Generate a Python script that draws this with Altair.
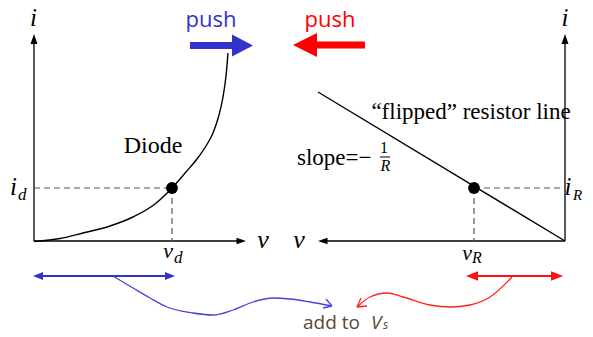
import altair as alt
import pandas as pd

# ---------------- data (diagram coordinates) ----------------
# diode characteristic i(v)
diode_v = [34, 60, 83, 110, 133, 155, 172, 186, 197, 206, 213, 219, 223, 226, 228]
diode_i = [241.5, 238.5, 233, 226, 217, 204, 188, 172, 159, 146, 133, 115, 97, 76, 53]

# "flipped" resistor load line
res_v = [318, 565]
res_i = [92, 241]

# operating points
op_v = [172, 474]
op_i = [188, 188]

# connecting curves under the plots
blue_v = [113, 133, 150, 167, 193, 213, 233, 253, 273, 290, 310, 332]
blue_i = [276, 288, 298, 307, 313, 315, 310, 302, 298, 299, 302, 306]
red_v = [512, 490, 470, 450, 430, 403, 387, 370, 357]
red_i = [277, 297, 305, 307, 305, 297, 293, 297, 307]

# axes segments
axis_x1 = [34, 34, 565, 565]
axis_y1 = [241, 241, 241, 241]
axis_x2 = [34, 240, 565, 324]
axis_y2 = [40, 241, 40, 241]

# dashed guides
dash_x1 = [34, 172, 474, 474]
dash_y1 = [188, 188, 188, 188]
dash_x2 = [172, 172, 565, 474]
dash_y2 = [188, 242, 188, 242]

# solid segments: push shafts, double arrows, chevrons, fraction bar
seg_x1 = [190, 312, 38, 471, 323, 326, 361, 367, 380]
seg_y1 = [45.5, 45, 276, 276, 308, 299, 298, 306, 157]
seg_x2 = [236, 365, 171, 558, 332, 332, 357, 357, 390]
seg_y2 = [45.5, 45, 276, 276, 306, 306, 307, 307, 157]
seg_col = ["#3333cc", "#ff0000", "#3333cc", "#ff1111", "#4444dd", "#4444dd", "#ff2222", "#ff2222", "black"]
seg_w = [7, 7, 2, 2, 1.3, 1.3, 1.3, 1.3, 1]

# arrow heads
head_x = [34, 565, 246, 318, 253, 293, 33, 175, 466, 563]
head_y = [34, 34, 241, 241, 45.5, 45, 276, 276, 276, 276]
head_kind = ["up", "up", "right", "left", "bigright", "bigleft", "midleft", "midright", "midleft", "midright"]
head_size = [100, 100, 90, 90, 441, 576, 100, 100, 144, 144]
head_col = ["black", "black", "black", "black", "#3333cc", "#ff0000", "#3333cc", "#3333cc", "#ff1111", "#ff1111"]

shape_names = ["up", "right", "left", "bigright", "bigleft", "midright", "midleft"]
shape_paths = [
    "M0,0L-0.7,2L0.7,2Z",
    "M0,0L-2,-0.7L-2,0.7Z",
    "M0,0L2,-0.7L2,0.7Z",
    "M0,0L-2,-1.04L-2,1.04Z",
    "M0,0L2,-1.0L2,1.0Z",
    "M0,0L-2,-0.8L-2,0.8Z",
    "M0,0L2,-0.8L2,0.8Z",
]

# texts
serif_txt = ["Diode", "\u201cflipped\u201d resistor line", "1"]
serif_x = [153, 471, 384]
serif_y = [153, 119, 153]
serif_sz = [24, 23, 16]

slope_txt = ["slope=\u2212"]
slope_x = [297]
slope_y = [165]

math_txt = ["i", "i", "v", "v", "i", "v", "v", "i", "R"]
math_x = [33.5, 565, 263, 299, 13.5, 168, 467, 568, 385.5]
math_y = [26, 26, 248, 248, 195, 258, 260, 195, 171]
math_sz = [25, 25, 26, 26, 25, 22, 22, 25, 16]

sub_txt = ["d", "d", "R", "R"]
sub_x = [18, 174, 472, 573]
sub_y = [200, 263, 263, 200]
sub_sz = [17, 17, 16, 15]

push_txt = ["push", "push"]
push_x = [211, 330]
push_y = [27, 27]
push_col = ["#3333cc", "#ff0000"]

add_txt = ["add to"]
add_x = [303]
add_y = [329]
vs_txt = ["V", "s"]
vs_x = [371, 383]
vs_y = [329, 329]
vs_sz = [19, 12]

# ---------------- chart ----------------
xs = alt.Scale(domain=[8, 585], nice=False, zero=False)
ys = alt.Scale(domain=[8, 329], nice=False, zero=False, reverse=True)


def X(f="x"):
    return alt.X(f + ":Q", scale=xs, axis=None)


def Y(f="y"):
    return alt.Y(f + ":Q", scale=ys, axis=None)


axes = alt.Chart(pd.DataFrame({"x": axis_x1, "y": axis_y1, "x2": axis_x2, "y2": axis_y2})).mark_rule(
    color="black", strokeWidth=1.3
).encode(x=X(), y=Y(), x2="x2:Q", y2="y2:Q")

dashes = alt.Chart(pd.DataFrame({"x": dash_x1, "y": dash_y1, "x2": dash_x2, "y2": dash_y2})).mark_rule(
    color="#555555", strokeWidth=1.2, strokeDash=[6, 4]
).encode(x=X(), y=Y(), x2="x2:Q", y2="y2:Q")

segs = alt.Chart(pd.DataFrame({"x": seg_x1, "y": seg_y1, "x2": seg_x2, "y2": seg_y2,
                               "c": seg_col, "w": seg_w})).mark_rule().encode(
    x=X(), y=Y(), x2="x2:Q", y2="y2:Q",
    color=alt.Color("c:N", scale=None),
    strokeWidth=alt.StrokeWidth("w:Q", scale=None),
)

diode = alt.Chart(pd.DataFrame({"x": diode_v, "y": diode_i})).mark_line(
    color="black", strokeWidth=1.4, interpolate="monotone"
).encode(x=X(), y=Y())

res = alt.Chart(pd.DataFrame({"x": res_v, "y": res_i})).mark_line(
    color="black", strokeWidth=1.4
).encode(x=X(), y=Y())

blue = alt.Chart(pd.DataFrame({"x": blue_v, "y": blue_i})).mark_line(
    color="#4444dd", strokeWidth=1.3, interpolate="monotone"
).encode(x=X(), y=Y())

red = alt.Chart(pd.DataFrame({"x": red_v, "y": red_i})).mark_line(
    color="#ff2222", strokeWidth=1.3, interpolate="monotone"
).encode(x=X(), y=Y())

ops = alt.Chart(pd.DataFrame({"x": op_v, "y": op_i})).mark_circle(
    color="black", opacity=1, size=140
).encode(x=X(), y=Y())

heads = alt.Chart(pd.DataFrame({"x": head_x, "y": head_y, "k": head_kind, "s": head_size,
                                "c": head_col})).mark_point(filled=True, opacity=1, strokeWidth=0).encode(
    x=X(), y=Y(),
    shape=alt.Shape("k:N", scale=alt.Scale(domain=shape_names, range=shape_paths), legend=None),
    size=alt.Size("s:Q", scale=None),
    color=alt.Color("c:N", scale=None),
)

serif = alt.Chart(pd.DataFrame({"x": serif_x, "y": serif_y, "t": serif_txt, "s": serif_sz})).mark_text(
    font="Liberation Serif", align="center", baseline="alphabetic", color="black"
).encode(x=X(), y=Y(), text="t:N", size=alt.Size("s:Q", scale=None))

slope = alt.Chart(pd.DataFrame({"x": slope_x, "y": slope_y, "t": slope_txt})).mark_text(
    font="Liberation Serif", fontSize=23, align="left", baseline="alphabetic", color="black"
).encode(x=X(), y=Y(), text="t:N")

math = alt.Chart(pd.DataFrame({"x": math_x, "y": math_y, "t": math_txt, "s": math_sz})).mark_text(
    font="Liberation Serif", fontStyle="italic", align="center", baseline="alphabetic", color="black"
).encode(x=X(), y=Y(), text="t:N", size=alt.Size("s:Q", scale=None))

subs = alt.Chart(pd.DataFrame({"x": sub_x, "y": sub_y, "t": sub_txt, "s": sub_sz})).mark_text(
    font="Liberation Serif", fontStyle="italic", align="left", baseline="alphabetic", color="black"
).encode(x=X(), y=Y(), text="t:N", size=alt.Size("s:Q", scale=None))

push = alt.Chart(pd.DataFrame({"x": push_x, "y": push_y, "t": push_txt, "c": push_col})).mark_text(
    font="Open Sans", fontSize=22, align="center", baseline="alphabetic"
).encode(x=X(), y=Y(), text="t:N", color=alt.Color("c:N", scale=None))

add = alt.Chart(pd.DataFrame({"x": add_x, "y": add_y, "t": add_txt})).mark_text(
    font="Open Sans", fontSize=19, align="left", baseline="alphabetic", color="#5b4636"
).encode(x=X(), y=Y(), text="t:N")

vs = alt.Chart(pd.DataFrame({"x": vs_x, "y": vs_y, "t": vs_txt, "s": vs_sz})).mark_text(
    font="Open Sans", fontStyle="italic", align="left", baseline="alphabetic", color="#5b4636"
).encode(x=X(), y=Y(), text="t:N", size=alt.Size("s:Q", scale=None))

chart = alt.layer(
    axes, dashes, diode, res, blue, red, segs, heads, ops,
    serif, slope, math, subs, push, add, vs,
).properties(
    width=577, height=321, padding=0, background="white",
    autosize=alt.AutoSizeParams(type="none"),
).configure_view(stroke=None)

chart.save("out.html", embed_options={"renderer": "svg", "actions": False})
